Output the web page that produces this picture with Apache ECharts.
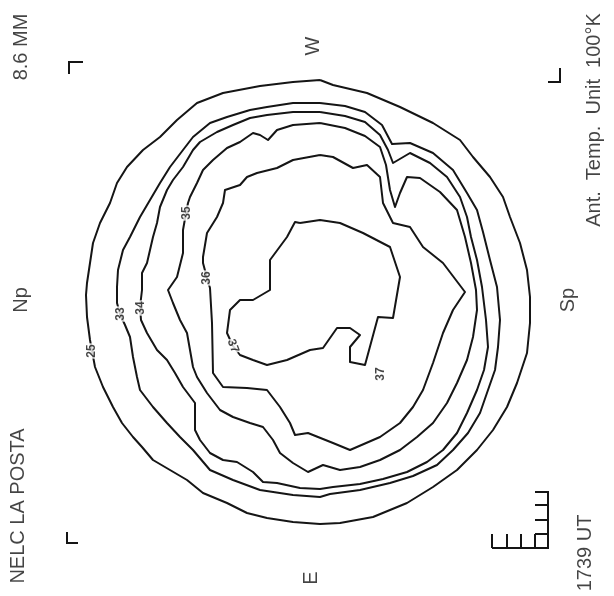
<!DOCTYPE html>
<html>
<head>
<meta charset="utf-8">
<script src="https://cdn.jsdelivr.net/npm/echarts@6/dist/echarts.min.js"></script>
<style>
  html, body { margin: 0; padding: 0; background: #fff; }
  #chart { width: 614px; height: 596px; }
</style>
</head>
<body>
<div id="chart"></div>
<script>
// Plane coordinates of the map sheet (x to the right, y downward), one unit per sample step.
// Isotherm contours of antenna temperature, in units of 100 K, traced clockwise.
const contour25 = [
  [320,80],[333,85],[367,93],[400,107],[433,123],[460,140],[473,157],[490,177],[503,197],[510,217],
  [520,243],[527,270],[530,297],[530,323],[527,353],[517,383],[507,407],[493,430],[477,450],[457,470],
  [433,487],[407,503],[373,517],[340,523],[320,524],[293,522],[267,518],[247,513],[227,503],[203,493],
  [187,480],[170,470],[153,460],[142,447],[133,437],[122,423],[113,407],[103,387],[95,367],[90,340],
  [87,317],[86,295],[87,283],[90,263],[93,243],[100,223],[110,203],[117,183],[127,167],[143,150],
  [160,137],[177,120],[197,103],[223,93],[260,86],[293,82],[320,80]
];
const contour33 = [
  [320,103],[345,106],[365,112],[382,125],[392,144],[410,143],[433,153],[453,170],[467,193],[477,210],
  [483,232],[490,260],[497,287],[500,320],[498,347],[495,370],[488,390],[480,413],[468,433],[453,450],
  [437,465],[413,476],[390,483],[360,490],[330,494],[320,497],[293,495],[260,490],[233,480],[210,470],
  [193,450],[180,437],[167,423],[153,407],[140,390],[137,377],[133,357],[130,337],[125,325],[120,314],
  [117,303],[117,287],[118,270],[123,250],[130,237],[140,217],[150,200],[160,183],[170,167],[183,150],
  [193,137],[210,123],[227,117],[250,110],[267,107],[293,103],[320,103]
];
const contour34 = [
  [320,112],[345,116],[365,122],[380,135],[388,150],[393,163],[410,153],[430,163],[447,177],[460,197],
  [467,217],[471,237],[477,260],[482,287],[486,320],[488,347],[484,370],[477,390],[467,413],[457,433],
  [443,450],[427,462],[407,472],[383,479],[360,484],[333,487],[320,489],[300,488],[277,483],[263,482],
  [253,472],[237,462],[223,460],[210,453],[200,440],[195,430],[195,403],[183,387],[175,373],[167,360],
  [157,350],[147,333],[141,320],[140,307],[142,290],[142,273],[147,263],[150,250],[153,237],[157,223],
  [160,207],[167,190],[173,180],[183,167],[193,150],[200,142],[217,132],[233,125],[250,118],[267,115],
  [293,112],[320,112]
];
const contour35 = [
  [320,123],[345,128],[365,136],[380,147],[386,165],[390,190],[395,207],[400,193],[407,177],[420,178],
  [440,192],[457,210],[465,237],[471,263],[476,290],[477,310],[473,337],[467,360],[457,383],[447,403],
  [433,423],[417,437],[400,450],[380,460],[360,467],[340,470],[323,465],[308,472],[293,463],[280,453],
  [273,440],[263,427],[250,423],[233,417],[220,410],[207,393],[197,377],[193,367],[190,350],[187,333],
  [180,320],[173,303],[168,290],[177,277],[183,253],[183,230],[186,213],[188,203],[190,197],[197,183],
  [203,170],[213,160],[227,148],[240,142],[253,133],[260,135],[268,140],[277,130],[293,125],[320,123]
];
const contour36 = [
  [320,155],[333,157],[353,168],[367,165],[380,177],[383,203],[390,217],[393,223],[410,227],[423,247],
  [443,263],[465,292],[453,310],[443,333],[433,363],[423,390],[413,407],[400,423],[380,437],[350,450],
  [333,443],[313,435],[308,433],[295,435],[290,423],[280,407],[267,390],[247,388],[223,387],[213,373],
  [212,323],[210,288],[207,278],[203,263],[203,257],[207,233],[217,217],[223,203],[225,190],[240,185],
  [247,177],[257,173],[277,168],[293,160],[320,155]
];
const contour37 = [
  [300,223],[320,220],[340,223],[363,233],[390,247],[400,277],[393,318],[378,317],[365,365],[350,362],
  [350,347],[360,335],[350,328],[337,328],[323,348],[310,350],[287,360],[267,365],[253,360],[240,355],
  [233,346],[227,333],[230,310],[240,300],[253,300],[270,290],[270,260],[287,237],[295,222],[300,223]
];

// Contour level labels: [level text, x, y, rotation]
const levelLabels = [
  ['25', 92, 351, 90],
  ['33', 121, 314, 90],
  ['34', 141, 308, 90],
  ['35', 187, 213, 90],
  ['36', 207, 278, 90],
  ['37', 233, 346, -70],
  ['37', 381, 374, 90]
];

// Sheet annotations: [text, x, y]
const sheetTexts = [
  ['8.6 MM', 21, 47],
  ['Np', 21, 300],
  ['NELC LA POSTA', 18, 506],
  ['W', 313, 46],
  ['E', 311, 578],
  ['Ant.  Temp.  Unit  100°K', 594, 120],
  ['Sp', 568, 300],
  ['1739 UT', 585, 553]
];

// Registration corners and the temperature scale combs
const sheetMarks = [
  [[83,62],[69,62],[69,74]],
  [[67,532],[67,543],[78,543]],
  [[560,68],[560,82],[548,82]],
  [[548,491],[548,548],[492,548]],
  [[535,492],[548,492]],
  [[535,505],[548,505]],
  [[535,520],[548,520]],
  [[535,534],[548,534]],
  [[492,534],[492,548]],
  [[507,534],[507,548]],
  [[521,534],[521,548]],
  [[535,534],[535,548]]
];

const ink = '#151515';
const contours = [contour25, contour33, contour34, contour35, contour36, contour37];

const series = contours.map(function (pts) {
  return {
    type: 'line',
    data: pts,
    symbol: 'none',
    smooth: false,
    clip: false,
    silent: true,
    z: 2,
    lineStyle: { color: ink, width: 2, join: 'round' }
  };
});

series.push({
  type: 'lines',
  coordinateSystem: 'cartesian2d',
  polyline: true,
  silent: true,
  z: 2,
  lineStyle: { color: ink, width: 2, opacity: 1 },
  data: sheetMarks.map(function (m) { return { coords: m }; })
});

series.push({
  type: 'scatter',
  symbolSize: 1,
  itemStyle: { color: 'rgba(0,0,0,0)' },
  silent: true,
  z: 5,
  data: levelLabels.map(function (d) {
    return {
      name: d[0],
      value: [d[1], d[2]],
      label: { rotate: d[3] }
    };
  }),
  label: {
    show: true,
    position: 'inside',
    formatter: '{b}',
    color: ink,
    fontFamily: 'Liberation Sans',
    fontWeight: 'bold',
    fontSize: 12,
    backgroundColor: '#fff',
    padding: [1, 1]
  }
});

series.push({
  type: 'scatter',
  symbolSize: 1,
  itemStyle: { color: 'rgba(0,0,0,0)' },
  silent: true,
  z: 5,
  data: sheetTexts.map(function (d) {
    return { name: d[0], value: [d[1], d[2]] };
  }),
  label: {
    show: true,
    position: 'inside',
    formatter: '{b}',
    rotate: 90,
    color: ink,
    fontFamily: 'Liberation Sans',
    fontSize: 20
  }
});

const chart = echarts.init(document.getElementById('chart'), null, { renderer: 'canvas' });
chart.setOption({
  animation: false,
  backgroundColor: '#fff',
  grid: { left: 0, right: 0, top: 0, bottom: 0 },
  xAxis: { type: 'value', min: 0, max: 614, show: false },
  yAxis: { type: 'value', min: 0, max: 596, inverse: true, show: false },
  series: series
});
</script>
</body>
</html>
